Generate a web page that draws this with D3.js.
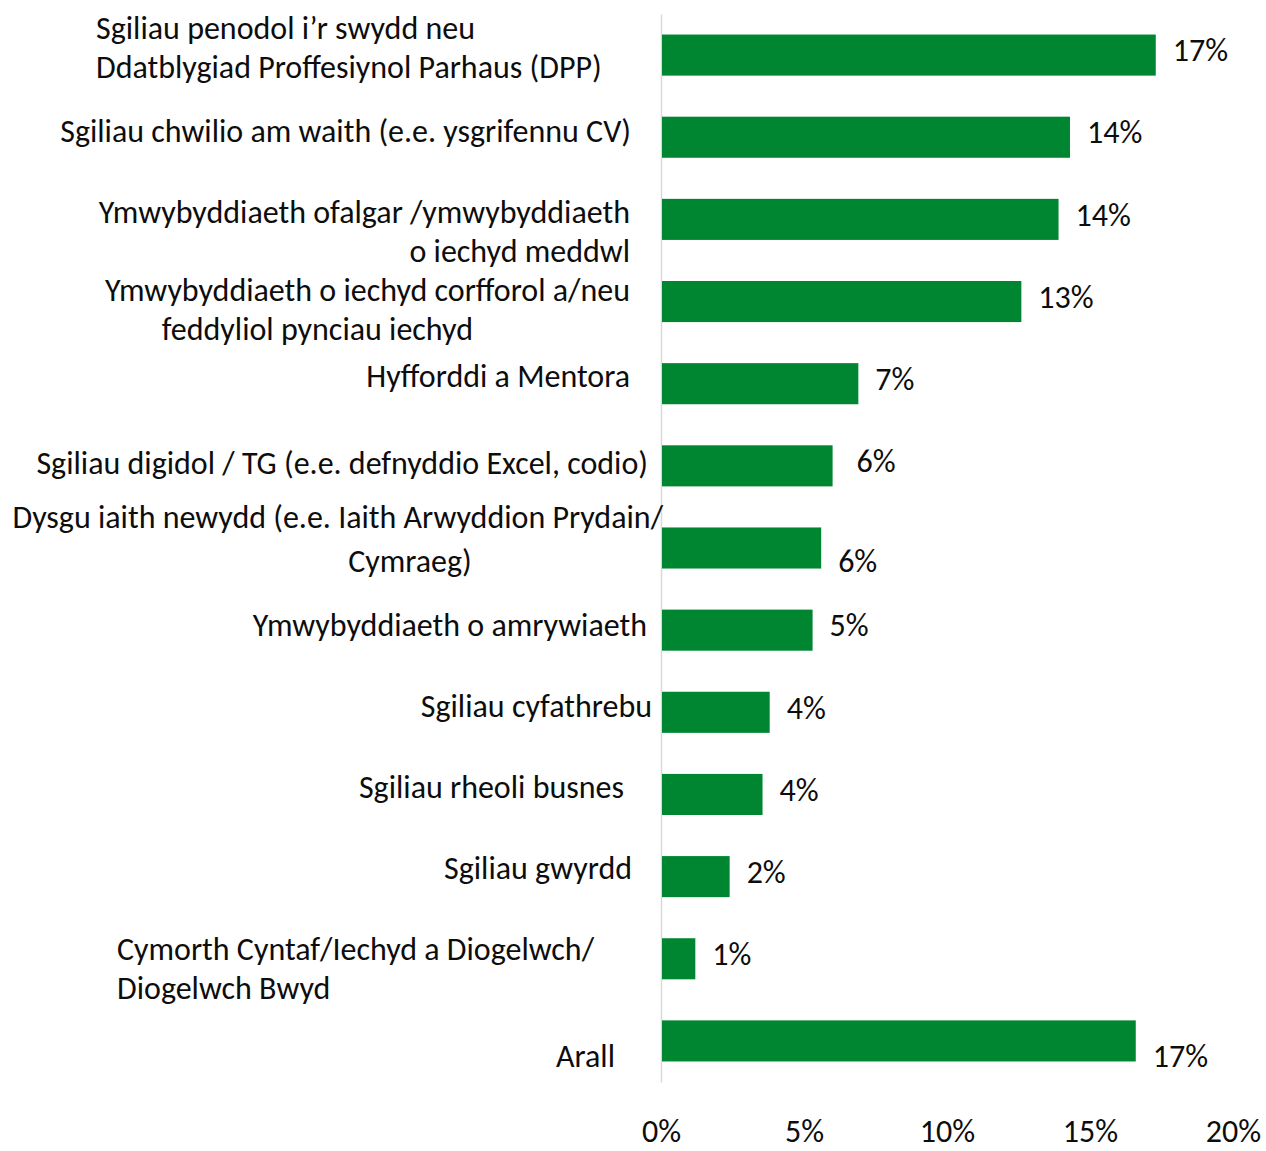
<!DOCTYPE html>
<html>
<head>
<meta charset="utf-8">
<script src="https://cdn.jsdelivr.net/npm/d3@7"></script>
<style>
  body { margin: 0; background: #fff; }
  svg { display: block; }
  svg text { font-family: Carlito, Calibri, "Open Sans", sans-serif; fill: #0d0d0d; }
</style>
</head>
<body>
<div id="chart"></div>
<script>
// categories (each entry = lines of the label)
var categories = [
    ["Sgiliau penodol i\u2019r swydd neu", "Ddatblygiad Proffesiynol Parhaus (DPP)"],
    ["Sgiliau chwilio am waith (e.e. ysgrifennu CV)"],
    ["Ymwybyddiaeth ofalgar /ymwybyddiaeth", "o iechyd meddwl"],
    ["Ymwybyddiaeth o iechyd corfforol a/neu", "feddyliol pynciau iechyd"],
    ["Hyfforddi a Mentora"],
    ["Sgiliau digidol / TG (e.e. defnyddio Excel, codio)"],
    ["Dysgu iaith newydd (e.e. Iaith Arwyddion Prydain/", "Cymraeg)"],
    ["Ymwybyddiaeth o amrywiaeth"],
    ["Sgiliau cyfathrebu"],
    ["Sgiliau rheoli busnes"],
    ["Sgiliau gwyrdd"],
    ["Cymorth Cyntaf/Iechyd a Diogelwch/", "Diogelwch Bwyd"],
    ["Arall"]
]
// percentages
var values = [17.3, 14.3, 13.9, 12.6, 6.9, 6.0, 5.6, 5.3, 3.8, 3.55, 2.4, 1.2, 16.6]
var xTicks = [0, 5, 10, 15, 20]

// label placement like the original (manually moved boxes in the source chart)
// per line: [anchor, x offset from the axis, y offset from bar centre]
var labelLayout = [
    [["start", -565, -27.5], ["start", -565, 11.5]],
    [["end", -30, -6]],
    [["end", -31, -7.5], ["end", -31, 31.5]],
    [["end", -31, -11.5], ["end", -188, 27.5]],
    [["end", -31, -7.5]],
    [["end", -13, -3.5]],
    [["end", 2, -31.5], ["middle", -251, 12.5]],
    [["end", -14, -5.5]],
    [["end", -9, -6.5]],
    [["end", -37, -7.5]],
    [["end", -29, -8.5]],
    [["start", -544, -9.5], ["start", -544, 29.5]],
    [["end", -46, 14.5]]
]
var valueLabelDy = {6: 12.5, 12: 14.5}
var valueLabelDx = {5: 24}

var width = 1266
var height = 1151

var svg = d3.select("#chart")
    .append("svg")
    .attr("width", width)
    .attr("height", height)

// pick a font size so the text is as wide as in the original (Calibri is not installed)
var probe = svg.append("text").style("font-size", "100px").text(categories[1][0])
var fontSize = 100 * 571 / probe.node().getComputedTextLength()
probe.remove()

var x = d3.scaleLinear()
    .domain([0, 20])
    .range([661, 1233])

var y = d3.scaleBand()
    .domain(d3.range(categories.length))
    .range([14, 1082])
    .paddingInner(0.5)
    .paddingOuter(0.25)

// vertical axis line
svg.append("g")
    .attr("transform", "translate(" + x(0) + ",0)")
    .call(d3.axisLeft(y).tickSize(0).tickFormat(""))
    .call(g => g.select(".domain").attr("stroke", "#d9d9d9").attr("stroke-width", 1.5))

// bottom tick labels, no line
svg.append("g")
    .attr("transform", "translate(0,1131)")
    .call(d3.axisBottom(x).tickValues(xTicks).tickSize(0).tickFormat(d => d + "%"))
    .call(g => g.select(".domain").remove())
    .call(g => g.selectAll("text")
        .attr("y", 0)
        .attr("dy", "0.35em")
        .style("font-size", fontSize + "px")
        .attr("fill", "#0d0d0d"))

// bars
svg.selectAll("rect.bar")
    .data(values)
    .enter()
    .append("rect")
    .attr("class", "bar")
    .attr("x", x(0) + 1)
    .attr("y", (d, i) => y(i))
    .attr("width", d => x(d) - x(0) - 1)
    .attr("height", y.bandwidth())
    .attr("fill", "#008631")

// value labels
var fmt = d3.format(".0%")
svg.selectAll("text.val")
    .data(values)
    .enter()
    .append("text")
    .attr("class", "val")
    .attr("x", (d, i) => x(d) + (valueLabelDx[i] || 17))
    .attr("y", (d, i) => y(i) + y.bandwidth() / 2 + (valueLabelDy[i] !== undefined ? valueLabelDy[i] : -5))
    .attr("dy", "0.35em")
    .style("font-size", fontSize + "px")
    .text(d => fmt(d / 100))

// category labels
var cat = svg.selectAll("g.cat")
    .data(categories)
    .enter()
    .append("g")
    .attr("class", "cat")

cat.selectAll("text")
    .data((d, i) => d.map((line, j) => ({line: line, lay: labelLayout[i][j], mid: y(i) + y.bandwidth() / 2})))
    .enter()
    .append("text")
    .attr("text-anchor", d => d.lay[0])
    .attr("x", d => x(0) + d.lay[1])
    .attr("y", d => d.mid + d.lay[2])
    .attr("dy", "0.35em")
    .style("font-size", fontSize + "px")
    .text(d => d.line)
</script>
</body>
</html>
